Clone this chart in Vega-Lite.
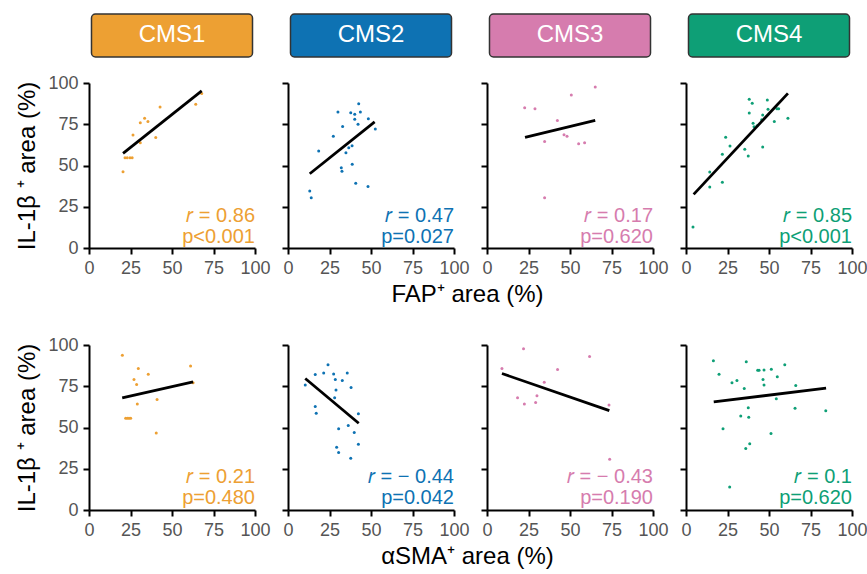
{
"$schema":"https://vega.github.io/schema/vega-lite/v6.json",
"padding":{"left":15,"top":13,"right":5,"bottom":5},
"background":"white",
"config":{"view":{"stroke":null},"font":"Liberation Sans",
 "axis":{"grid":false,"labelFlush":false,"labelOverlap":false,"domainColor":"#000","domainWidth":2,"tickColor":"#000","tickWidth":2,"tickSize":6,"labelColor":"#555","labelFontSize":18,"labelPadding":5,"titleFontSize":24,"titleFontWeight":"normal","titleColor":"#000","titlePadding":8,"labelFont":"Liberation Sans","titleFont":"Liberation Sans"}},
"datasets":{
"pts":[
{"p":"F1","cms":"CMS1","x":20.5,"y":46.2},{"p":"F1","cms":"CMS1","x":21.7,"y":54.7},{"p":"F1","cms":"CMS1","x":23,"y":54.7},{"p":"F1","cms":"CMS1","x":24.7,"y":54.7},{"p":"F1","cms":"CMS1","x":26,"y":54.7},{"p":"F1","cms":"CMS1","x":26.5,"y":68.5},{"p":"F1","cms":"CMS1","x":30.9,"y":75.9},{"p":"F1","cms":"CMS1","x":33.5,"y":78.6},{"p":"F1","cms":"CMS1","x":35.5,"y":76.6},{"p":"F1","cms":"CMS1","x":30.9,"y":63.8},{"p":"F1","cms":"CMS1","x":40.2,"y":66.9},{"p":"F1","cms":"CMS1","x":42.8,"y":85.5},{"p":"F1","cms":"CMS1","x":64.3,"y":87.1},{"p":"F1","cms":"CMS1","x":67.9,"y":93.7},
{"p":"F2","cms":"CMS2","x":13.1,"y":34.5},{"p":"F2","cms":"CMS2","x":14,"y":30.5},{"p":"F2","cms":"CMS2","x":18.5,"y":58.8},{"p":"F2","cms":"CMS2","x":27.3,"y":67.7},{"p":"F2","cms":"CMS2","x":30.1,"y":82.4},{"p":"F2","cms":"CMS2","x":32.9,"y":73.7},{"p":"F2","cms":"CMS2","x":32.1,"y":48.7},{"p":"F2","cms":"CMS2","x":32.5,"y":46.5},{"p":"F2","cms":"CMS2","x":34.9,"y":57.8},{"p":"F2","cms":"CMS2","x":36.6,"y":60.8},{"p":"F2","cms":"CMS2","x":38.6,"y":62},{"p":"F2","cms":"CMS2","x":37.8,"y":82},{"p":"F2","cms":"CMS2","x":40.2,"y":81},{"p":"F2","cms":"CMS2","x":40.2,"y":78},{"p":"F2","cms":"CMS2","x":42.6,"y":87.5},{"p":"F2","cms":"CMS2","x":43.6,"y":82.4},{"p":"F2","cms":"CMS2","x":42.2,"y":75},{"p":"F2","cms":"CMS2","x":38.7,"y":50.7},{"p":"F2","cms":"CMS2","x":40.8,"y":39.2},{"p":"F2","cms":"CMS2","x":48.2,"y":37.2},{"p":"F2","cms":"CMS2","x":48.4,"y":78.4},{"p":"F2","cms":"CMS2","x":52.6,"y":72.1},
{"p":"F3","cms":"CMS3","x":22.7,"y":85},{"p":"F3","cms":"CMS3","x":28.9,"y":84.4},{"p":"F3","cms":"CMS3","x":42.4,"y":77.2},{"p":"F3","cms":"CMS3","x":34.7,"y":64.6},{"p":"F3","cms":"CMS3","x":46.4,"y":68.7},{"p":"F3","cms":"CMS3","x":48.2,"y":67.7},{"p":"F3","cms":"CMS3","x":50.8,"y":92.7},{"p":"F3","cms":"CMS3","x":55.2,"y":63.2},{"p":"F3","cms":"CMS3","x":58.8,"y":63.8},{"p":"F3","cms":"CMS3","x":65.2,"y":97.6},{"p":"F3","cms":"CMS3","x":34.7,"y":30.5},
{"p":"F4","cms":"CMS4","x":4.2,"y":12.7},{"p":"F4","cms":"CMS4","x":14.3,"y":46.1},{"p":"F4","cms":"CMS4","x":14.3,"y":37},{"p":"F4","cms":"CMS4","x":21.9,"y":39.8},{"p":"F4","cms":"CMS4","x":21.9,"y":56.8},{"p":"F4","cms":"CMS4","x":23.9,"y":67.1},{"p":"F4","cms":"CMS4","x":26.5,"y":61.8},{"p":"F4","cms":"CMS4","x":35.4,"y":59.8},{"p":"F4","cms":"CMS4","x":37.5,"y":55.8},{"p":"F4","cms":"CMS4","x":38.1,"y":90.1},{"p":"F4","cms":"CMS4","x":39.9,"y":87.7},{"p":"F4","cms":"CMS4","x":38.1,"y":81.8},{"p":"F4","cms":"CMS4","x":40.4,"y":75.6},{"p":"F4","cms":"CMS4","x":41,"y":73.5},{"p":"F4","cms":"CMS4","x":42.8,"y":74.1},{"p":"F4","cms":"CMS4","x":45.6,"y":77.8},{"p":"F4","cms":"CMS4","x":46.2,"y":80.6},{"p":"F4","cms":"CMS4","x":46.2,"y":61.2},{"p":"F4","cms":"CMS4","x":49,"y":89.7},{"p":"F4","cms":"CMS4","x":49.4,"y":84.1},{"p":"F4","cms":"CMS4","x":53.2,"y":76.6},{"p":"F4","cms":"CMS4","x":54.8,"y":84.4},{"p":"F4","cms":"CMS4","x":55.8,"y":84.4},{"p":"F4","cms":"CMS4","x":61.4,"y":78.6},
{"p":"S1","cms":"CMS1","x":20.1,"y":93.8},{"p":"S1","cms":"CMS1","x":29.7,"y":85.7},{"p":"S1","cms":"CMS1","x":27.1,"y":79.1},{"p":"S1","cms":"CMS1","x":28.7,"y":76.1},{"p":"S1","cms":"CMS1","x":35.7,"y":82.3},{"p":"S1","cms":"CMS1","x":29.1,"y":64.3},{"p":"S1","cms":"CMS1","x":22.1,"y":55.6},{"p":"S1","cms":"CMS1","x":23.1,"y":55.6},{"p":"S1","cms":"CMS1","x":24.1,"y":55.6},{"p":"S1","cms":"CMS1","x":25.1,"y":55.6},{"p":"S1","cms":"CMS1","x":41,"y":67},{"p":"S1","cms":"CMS1","x":40.5,"y":46.6},{"p":"S1","cms":"CMS1","x":61.2,"y":87.3},{"p":"S1","cms":"CMS1","x":62.7,"y":77.1},
{"p":"S2","cms":"CMS2","x":10.4,"y":75.7},{"p":"S2","cms":"CMS2","x":16.4,"y":82.1},{"p":"S2","cms":"CMS2","x":21.5,"y":83.1},{"p":"S2","cms":"CMS2","x":24.1,"y":88.1},{"p":"S2","cms":"CMS2","x":27.5,"y":82.5},{"p":"S2","cms":"CMS2","x":28.5,"y":79.1},{"p":"S2","cms":"CMS2","x":28.9,"y":72.7},{"p":"S2","cms":"CMS2","x":28.1,"y":68.1},{"p":"S2","cms":"CMS2","x":32.7,"y":78.5},{"p":"S2","cms":"CMS2","x":35.7,"y":83},{"p":"S2","cms":"CMS2","x":38,"y":74.3},{"p":"S2","cms":"CMS2","x":16.4,"y":62.7},{"p":"S2","cms":"CMS2","x":17,"y":58.6},{"p":"S2","cms":"CMS2","x":42.4,"y":58.3},{"p":"S2","cms":"CMS2","x":30.5,"y":49.2},{"p":"S2","cms":"CMS2","x":36.3,"y":51.2},{"p":"S2","cms":"CMS2","x":39.9,"y":47},{"p":"S2","cms":"CMS2","x":42.4,"y":39.8},{"p":"S2","cms":"CMS2","x":29.3,"y":38},{"p":"S2","cms":"CMS2","x":30.5,"y":34.9},{"p":"S2","cms":"CMS2","x":37.8,"y":31.3},
{"p":"S3","cms":"CMS3","x":9,"y":85.7},{"p":"S3","cms":"CMS3","x":22,"y":97.8},{"p":"S3","cms":"CMS3","x":18.4,"y":68.1},{"p":"S3","cms":"CMS3","x":22.5,"y":64.3},{"p":"S3","cms":"CMS3","x":29.3,"y":65.1},{"p":"S3","cms":"CMS3","x":30.1,"y":69.3},{"p":"S3","cms":"CMS3","x":34.5,"y":77.5},{"p":"S3","cms":"CMS3","x":42.5,"y":85.1},{"p":"S3","cms":"CMS3","x":61.8,"y":93},{"p":"S3","cms":"CMS3","x":73.5,"y":63.7},{"p":"S3","cms":"CMS3","x":73.9,"y":30.7},
{"p":"S4","cms":"CMS4","x":16.5,"y":90.4},{"p":"S4","cms":"CMS4","x":19.9,"y":82.3},{"p":"S4","cms":"CMS4","x":27.7,"y":77.1},{"p":"S4","cms":"CMS4","x":30.7,"y":78.5},{"p":"S4","cms":"CMS4","x":35.1,"y":73.7},{"p":"S4","cms":"CMS4","x":36.3,"y":89.8},{"p":"S4","cms":"CMS4","x":43.2,"y":84.7},{"p":"S4","cms":"CMS4","x":44,"y":84.7},{"p":"S4","cms":"CMS4","x":47,"y":84.9},{"p":"S4","cms":"CMS4","x":46.4,"y":79.1},{"p":"S4","cms":"CMS4","x":47,"y":75.7},{"p":"S4","cms":"CMS4","x":51.4,"y":85.3},{"p":"S4","cms":"CMS4","x":55,"y":80.7},{"p":"S4","cms":"CMS4","x":59.5,"y":88.1},{"p":"S4","cms":"CMS4","x":66.1,"y":75.5},{"p":"S4","cms":"CMS4","x":54.4,"y":67.5},{"p":"S4","cms":"CMS4","x":37.5,"y":62},{"p":"S4","cms":"CMS4","x":33,"y":57},{"p":"S4","cms":"CMS4","x":37.8,"y":56.2},{"p":"S4","cms":"CMS4","x":65.7,"y":61.6},{"p":"S4","cms":"CMS4","x":84.2,"y":60.2},{"p":"S4","cms":"CMS4","x":22.3,"y":49.2},{"p":"S4","cms":"CMS4","x":51.2,"y":46.4},{"p":"S4","cms":"CMS4","x":38.4,"y":40.2},{"p":"S4","cms":"CMS4","x":36,"y":37.3},{"p":"S4","cms":"CMS4","x":26.3,"y":13.9}
],
"fit":[
{"p":"F1","x":20.5,"y":57.4},{"p":"F1","x":67.9,"y":95.2},
{"p":"F2","x":13.1,"y":45},{"p":"F2","x":52.2,"y":76.4},
{"p":"F3","x":22.9,"y":67.1},{"p":"F3","x":65.2,"y":77.4},
{"p":"F4","x":4.6,"y":32.5},{"p":"F4","x":61.4,"y":93.7},
{"p":"S1","x":20,"y":68},{"p":"S1","x":62.7,"y":77.7},
{"p":"S2","x":10.4,"y":79.7},{"p":"S2","x":42.6,"y":52.6},
{"p":"S3","x":9,"y":82.7},{"p":"S3","x":73.7,"y":60.2},
{"p":"S4","x":16.7,"y":65.5},{"p":"S4","x":84.4,"y":73.9}
],
"stats":[
{"p":"F1","cms":"CMS1","r":"𝑟 = 0.86","pv":"p<0.001"},
{"p":"F2","cms":"CMS2","r":"𝑟 = 0.47","pv":"p=0.027"},
{"p":"F3","cms":"CMS3","r":"𝑟 = 0.17","pv":"p=0.620"},
{"p":"F4","cms":"CMS4","r":"𝑟 = 0.85","pv":"p<0.001"},
{"p":"S1","cms":"CMS1","r":"𝑟 = 0.21","pv":"p=0.480"},
{"p":"S2","cms":"CMS2","r":"𝑟 = − 0.44","pv":"p=0.042"},
{"p":"S3","cms":"CMS3","r":"𝑟 = − 0.43","pv":"p=0.190"},
{"p":"S4","cms":"CMS4","r":"𝑟 = 0.1","pv":"p=0.620"}
],
"hdr":[
{"p":"F1","cms":"CMS1"},{"p":"F2","cms":"CMS2"},{"p":"F3","cms":"CMS3"},{"p":"F4","cms":"CMS4"}
]
},
"spacing":29,
"vconcat":[
{"hconcat":[
 {"width":166,"height":165,
 "layer":[
  {"data":{"name":"pts"},"transform":[{"filter":"datum.p=='F1'"}],"mark":{"type":"circle","size":9,"opacity":1},"encoding":{"x":{"field":"x","type":"quantitative","scale":{"domain":[0,100],"nice":false},"axis":{"values":[0,25,50,75,100],"title":null}},"y":{"field":"y","type":"quantitative","scale":{"domain":[0,100],"nice":false},"axis":{"values":[0,25,50,75,100],"title":"IL-1β ⁺ area (%)"}},"color":{"field":"cms","type":"nominal","scale":{"domain":["CMS1","CMS2","CMS3","CMS4"],"range":["#EDA033","#0E72B3","#D67CAE","#0E9F76"]},"legend":null}}},
  {"data":{"name":"fit"},"transform":[{"filter":"datum.p=='F1'"}],"mark":{"type":"line","color":"#000","strokeWidth":2.8},"encoding":{"x":{"field":"x","type":"quantitative"},"y":{"field":"y","type":"quantitative"}}},
  {"data":{"name":"stats"},"transform":[{"filter":"datum.p=='F1'"}],"mark":{"type":"text","align":"right","baseline":"alphabetic","fontSize":20},"encoding":{"x":{"datum":100,"type":"quantitative"},"y":{"datum":15.8,"type":"quantitative"},"text":{"field":"r","type":"nominal"},"color":{"field":"cms","type":"nominal","legend":null}}},
  {"data":{"name":"stats"},"transform":[{"filter":"datum.p=='F1'"}],"mark":{"type":"text","align":"right","baseline":"alphabetic","fontSize":20},"encoding":{"x":{"datum":100,"type":"quantitative"},"y":{"datum":3,"type":"quantitative"},"text":{"field":"pv","type":"nominal"},"color":{"field":"cms","type":"nominal","legend":null}}},
  {"data":{"name":"hdr"},"transform":[{"filter":"datum.p=='F1'"}],"mark":{"type":"rect","cornerRadius":4,"stroke":"#333","strokeWidth":1.5},"encoding":{"x":{"datum":1.5,"type":"quantitative"},"x2":{"datum":98.5},"y":{"datum":141.8,"type":"quantitative"},"y2":{"datum":115.8},"color":{"field":"cms","type":"nominal","legend":null}}},
  {"data":{"name":"hdr"},"transform":[{"filter":"datum.p=='F1'"}],"mark":{"type":"text","color":"white","fontSize":24,"baseline":"middle"},"encoding":{"x":{"datum":50,"type":"quantitative"},"y":{"datum":128.8,"type":"quantitative"},"text":{"field":"cms","type":"nominal"}}}
 ]},
 {"width":166,"height":165,
 "layer":[
  {"data":{"name":"pts"},"transform":[{"filter":"datum.p=='F2'"}],"mark":{"type":"circle","size":9,"opacity":1},"encoding":{"x":{"field":"x","type":"quantitative","scale":{"domain":[0,100],"nice":false},"axis":{"values":[0,25,50,75,100],"title":null}},"y":{"field":"y","type":"quantitative","scale":{"domain":[0,100],"nice":false},"axis":{"values":[0,25,50,75,100],"title":null,"labels":false}},"color":{"field":"cms","type":"nominal","legend":null}}},
  {"data":{"name":"fit"},"transform":[{"filter":"datum.p=='F2'"}],"mark":{"type":"line","color":"#000","strokeWidth":2.8},"encoding":{"x":{"field":"x","type":"quantitative"},"y":{"field":"y","type":"quantitative"}}},
  {"data":{"name":"stats"},"transform":[{"filter":"datum.p=='F2'"}],"mark":{"type":"text","align":"right","baseline":"alphabetic","fontSize":20},"encoding":{"x":{"datum":100,"type":"quantitative"},"y":{"datum":15.8,"type":"quantitative"},"text":{"field":"r","type":"nominal"},"color":{"field":"cms","type":"nominal","legend":null}}},
  {"data":{"name":"stats"},"transform":[{"filter":"datum.p=='F2'"}],"mark":{"type":"text","align":"right","baseline":"alphabetic","fontSize":20},"encoding":{"x":{"datum":100,"type":"quantitative"},"y":{"datum":3,"type":"quantitative"},"text":{"field":"pv","type":"nominal"},"color":{"field":"cms","type":"nominal","legend":null}}},
  {"data":{"name":"hdr"},"transform":[{"filter":"datum.p=='F2'"}],"mark":{"type":"rect","cornerRadius":4,"stroke":"#333","strokeWidth":1.5},"encoding":{"x":{"datum":1.5,"type":"quantitative"},"x2":{"datum":98.5},"y":{"datum":141.8,"type":"quantitative"},"y2":{"datum":115.8},"color":{"field":"cms","type":"nominal","legend":null}}},
  {"data":{"name":"hdr"},"transform":[{"filter":"datum.p=='F2'"}],"mark":{"type":"text","color":"white","fontSize":24,"baseline":"middle"},"encoding":{"x":{"datum":50,"type":"quantitative"},"y":{"datum":128.8,"type":"quantitative"},"text":{"field":"cms","type":"nominal"}}}
 ]},
 {"width":166,"height":165,
 "layer":[
  {"data":{"name":"pts"},"transform":[{"filter":"datum.p=='F3'"}],"mark":{"type":"circle","size":9,"opacity":1},"encoding":{"x":{"field":"x","type":"quantitative","scale":{"domain":[0,100],"nice":false},"axis":{"values":[0,25,50,75,100],"title":null}},"y":{"field":"y","type":"quantitative","scale":{"domain":[0,100],"nice":false},"axis":{"values":[0,25,50,75,100],"title":null,"labels":false}},"color":{"field":"cms","type":"nominal","legend":null}}},
  {"data":{"name":"fit"},"transform":[{"filter":"datum.p=='F3'"}],"mark":{"type":"line","color":"#000","strokeWidth":2.8},"encoding":{"x":{"field":"x","type":"quantitative"},"y":{"field":"y","type":"quantitative"}}},
  {"data":{"name":"stats"},"transform":[{"filter":"datum.p=='F3'"}],"mark":{"type":"text","align":"right","baseline":"alphabetic","fontSize":20},"encoding":{"x":{"datum":100,"type":"quantitative"},"y":{"datum":15.8,"type":"quantitative"},"text":{"field":"r","type":"nominal"},"color":{"field":"cms","type":"nominal","legend":null}}},
  {"data":{"name":"stats"},"transform":[{"filter":"datum.p=='F3'"}],"mark":{"type":"text","align":"right","baseline":"alphabetic","fontSize":20},"encoding":{"x":{"datum":100,"type":"quantitative"},"y":{"datum":3,"type":"quantitative"},"text":{"field":"pv","type":"nominal"},"color":{"field":"cms","type":"nominal","legend":null}}},
  {"data":{"name":"hdr"},"transform":[{"filter":"datum.p=='F3'"}],"mark":{"type":"rect","cornerRadius":4,"stroke":"#333","strokeWidth":1.5},"encoding":{"x":{"datum":1.5,"type":"quantitative"},"x2":{"datum":98.5},"y":{"datum":141.8,"type":"quantitative"},"y2":{"datum":115.8},"color":{"field":"cms","type":"nominal","legend":null}}},
  {"data":{"name":"hdr"},"transform":[{"filter":"datum.p=='F3'"}],"mark":{"type":"text","color":"white","fontSize":24,"baseline":"middle"},"encoding":{"x":{"datum":50,"type":"quantitative"},"y":{"datum":128.8,"type":"quantitative"},"text":{"field":"cms","type":"nominal"}}}
 ]},
 {"width":166,"height":165,
 "layer":[
  {"data":{"name":"pts"},"transform":[{"filter":"datum.p=='F4'"}],"mark":{"type":"circle","size":9,"opacity":1},"encoding":{"x":{"field":"x","type":"quantitative","scale":{"domain":[0,100],"nice":false},"axis":{"values":[0,25,50,75,100],"title":null}},"y":{"field":"y","type":"quantitative","scale":{"domain":[0,100],"nice":false},"axis":{"values":[0,25,50,75,100],"title":null,"labels":false}},"color":{"field":"cms","type":"nominal","legend":null}}},
  {"data":{"name":"fit"},"transform":[{"filter":"datum.p=='F4'"}],"mark":{"type":"line","color":"#000","strokeWidth":2.8},"encoding":{"x":{"field":"x","type":"quantitative"},"y":{"field":"y","type":"quantitative"}}},
  {"data":{"name":"stats"},"transform":[{"filter":"datum.p=='F4'"}],"mark":{"type":"text","align":"right","baseline":"alphabetic","fontSize":20},"encoding":{"x":{"datum":100,"type":"quantitative"},"y":{"datum":15.8,"type":"quantitative"},"text":{"field":"r","type":"nominal"},"color":{"field":"cms","type":"nominal","legend":null}}},
  {"data":{"name":"stats"},"transform":[{"filter":"datum.p=='F4'"}],"mark":{"type":"text","align":"right","baseline":"alphabetic","fontSize":20},"encoding":{"x":{"datum":100,"type":"quantitative"},"y":{"datum":3,"type":"quantitative"},"text":{"field":"pv","type":"nominal"},"color":{"field":"cms","type":"nominal","legend":null}}},
  {"data":{"name":"hdr"},"transform":[{"filter":"datum.p=='F4'"}],"mark":{"type":"rect","cornerRadius":4,"stroke":"#333","strokeWidth":1.5},"encoding":{"x":{"datum":1.5,"type":"quantitative"},"x2":{"datum":98.5},"y":{"datum":141.8,"type":"quantitative"},"y2":{"datum":115.8},"color":{"field":"cms","type":"nominal","legend":null}}},
  {"data":{"name":"hdr"},"transform":[{"filter":"datum.p=='F4'"}],"mark":{"type":"text","color":"white","fontSize":24,"baseline":"middle"},"encoding":{"x":{"datum":50,"type":"quantitative"},"y":{"datum":128.8,"type":"quantitative"},"text":{"field":"cms","type":"nominal"}}}
 ]}
],
"spacing":33,"bounds":"flush",
"title":{"text":"FAP⁺ area (%)","orient":"bottom","anchor":"middle","fontSize":24,"fontWeight":"normal","color":"#000","font":"Liberation Sans","offset":6,"dx":26}
},
{"hconcat":[
 {"width":166,"height":165,
 "layer":[
  {"data":{"name":"pts"},"transform":[{"filter":"datum.p=='S1'"}],"mark":{"type":"circle","size":9,"opacity":1},"encoding":{"x":{"field":"x","type":"quantitative","scale":{"domain":[0,100],"nice":false},"axis":{"values":[0,25,50,75,100],"title":null}},"y":{"field":"y","type":"quantitative","scale":{"domain":[0,100],"nice":false},"axis":{"values":[0,25,50,75,100],"title":"IL-1β ⁺ area (%)"}},"color":{"field":"cms","type":"nominal","legend":null}}},
  {"data":{"name":"fit"},"transform":[{"filter":"datum.p=='S1'"}],"mark":{"type":"line","color":"#000","strokeWidth":2.8},"encoding":{"x":{"field":"x","type":"quantitative"},"y":{"field":"y","type":"quantitative"}}},
  {"data":{"name":"stats"},"transform":[{"filter":"datum.p=='S1'"}],"mark":{"type":"text","align":"right","baseline":"alphabetic","fontSize":20},"encoding":{"x":{"datum":100,"type":"quantitative"},"y":{"datum":16.2,"type":"quantitative"},"text":{"field":"r","type":"nominal"},"color":{"field":"cms","type":"nominal","legend":null}}},
  {"data":{"name":"stats"},"transform":[{"filter":"datum.p=='S1'"}],"mark":{"type":"text","align":"right","baseline":"alphabetic","fontSize":20},"encoding":{"x":{"datum":100,"type":"quantitative"},"y":{"datum":3.5,"type":"quantitative"},"text":{"field":"pv","type":"nominal"},"color":{"field":"cms","type":"nominal","legend":null}}}
 ]},
 {"width":166,"height":165,
 "layer":[
  {"data":{"name":"pts"},"transform":[{"filter":"datum.p=='S2'"}],"mark":{"type":"circle","size":9,"opacity":1},"encoding":{"x":{"field":"x","type":"quantitative","scale":{"domain":[0,100],"nice":false},"axis":{"values":[0,25,50,75,100],"title":null}},"y":{"field":"y","type":"quantitative","scale":{"domain":[0,100],"nice":false},"axis":{"values":[0,25,50,75,100],"title":null,"labels":false}},"color":{"field":"cms","type":"nominal","legend":null}}},
  {"data":{"name":"fit"},"transform":[{"filter":"datum.p=='S2'"}],"mark":{"type":"line","color":"#000","strokeWidth":2.8},"encoding":{"x":{"field":"x","type":"quantitative"},"y":{"field":"y","type":"quantitative"}}},
  {"data":{"name":"stats"},"transform":[{"filter":"datum.p=='S2'"}],"mark":{"type":"text","align":"right","baseline":"alphabetic","fontSize":20},"encoding":{"x":{"datum":100,"type":"quantitative"},"y":{"datum":16.2,"type":"quantitative"},"text":{"field":"r","type":"nominal"},"color":{"field":"cms","type":"nominal","legend":null}}},
  {"data":{"name":"stats"},"transform":[{"filter":"datum.p=='S2'"}],"mark":{"type":"text","align":"right","baseline":"alphabetic","fontSize":20},"encoding":{"x":{"datum":100,"type":"quantitative"},"y":{"datum":3.5,"type":"quantitative"},"text":{"field":"pv","type":"nominal"},"color":{"field":"cms","type":"nominal","legend":null}}}
 ]},
 {"width":166,"height":165,
 "layer":[
  {"data":{"name":"pts"},"transform":[{"filter":"datum.p=='S3'"}],"mark":{"type":"circle","size":9,"opacity":1},"encoding":{"x":{"field":"x","type":"quantitative","scale":{"domain":[0,100],"nice":false},"axis":{"values":[0,25,50,75,100],"title":null}},"y":{"field":"y","type":"quantitative","scale":{"domain":[0,100],"nice":false},"axis":{"values":[0,25,50,75,100],"title":null,"labels":false}},"color":{"field":"cms","type":"nominal","legend":null}}},
  {"data":{"name":"fit"},"transform":[{"filter":"datum.p=='S3'"}],"mark":{"type":"line","color":"#000","strokeWidth":2.8},"encoding":{"x":{"field":"x","type":"quantitative"},"y":{"field":"y","type":"quantitative"}}},
  {"data":{"name":"stats"},"transform":[{"filter":"datum.p=='S3'"}],"mark":{"type":"text","align":"right","baseline":"alphabetic","fontSize":20},"encoding":{"x":{"datum":100,"type":"quantitative"},"y":{"datum":16.2,"type":"quantitative"},"text":{"field":"r","type":"nominal"},"color":{"field":"cms","type":"nominal","legend":null}}},
  {"data":{"name":"stats"},"transform":[{"filter":"datum.p=='S3'"}],"mark":{"type":"text","align":"right","baseline":"alphabetic","fontSize":20},"encoding":{"x":{"datum":100,"type":"quantitative"},"y":{"datum":3.5,"type":"quantitative"},"text":{"field":"pv","type":"nominal"},"color":{"field":"cms","type":"nominal","legend":null}}}
 ]},
 {"width":166,"height":165,
 "layer":[
  {"data":{"name":"pts"},"transform":[{"filter":"datum.p=='S4'"}],"mark":{"type":"circle","size":9,"opacity":1},"encoding":{"x":{"field":"x","type":"quantitative","scale":{"domain":[0,100],"nice":false},"axis":{"values":[0,25,50,75,100],"title":null}},"y":{"field":"y","type":"quantitative","scale":{"domain":[0,100],"nice":false},"axis":{"values":[0,25,50,75,100],"title":null,"labels":false}},"color":{"field":"cms","type":"nominal","legend":null}}},
  {"data":{"name":"fit"},"transform":[{"filter":"datum.p=='S4'"}],"mark":{"type":"line","color":"#000","strokeWidth":2.8},"encoding":{"x":{"field":"x","type":"quantitative"},"y":{"field":"y","type":"quantitative"}}},
  {"data":{"name":"stats"},"transform":[{"filter":"datum.p=='S4'"}],"mark":{"type":"text","align":"right","baseline":"alphabetic","fontSize":20},"encoding":{"x":{"datum":100,"type":"quantitative"},"y":{"datum":16.2,"type":"quantitative"},"text":{"field":"r","type":"nominal"},"color":{"field":"cms","type":"nominal","legend":null}}},
  {"data":{"name":"stats"},"transform":[{"filter":"datum.p=='S4'"}],"mark":{"type":"text","align":"right","baseline":"alphabetic","fontSize":20},"encoding":{"x":{"datum":100,"type":"quantitative"},"y":{"datum":3.5,"type":"quantitative"},"text":{"field":"pv","type":"nominal"},"color":{"field":"cms","type":"nominal","legend":null}}}
 ]}
],
"spacing":33,"bounds":"flush",
"title":{"text":"αSMA⁺ area (%)","orient":"bottom","anchor":"middle","fontSize":24,"fontWeight":"normal","color":"#000","font":"Liberation Sans","offset":6,"dx":26}
}
]
}
